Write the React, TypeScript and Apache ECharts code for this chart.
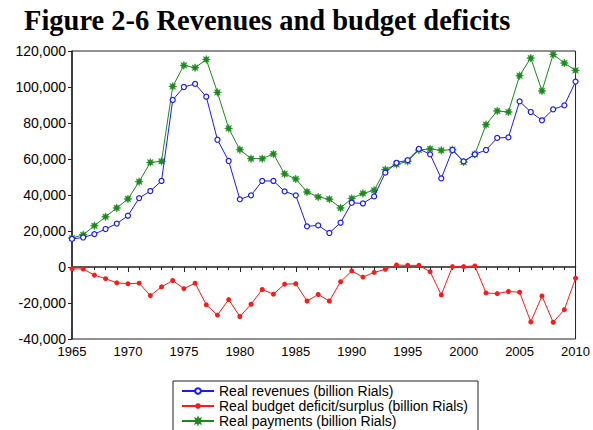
import React, { useEffect, useRef } from "react";
import * as echarts from "echarts";

const years: number[] = [];
for (let y = 1965; y <= 2010; y++) years.push(y);

const revenues = [
  15600, 16400, 18300, 21100, 24100, 28500, 38300, 42200, 47800, 92800,
  100000, 101700, 94600, 70700, 58900, 37600, 39800, 47800, 47800, 42000,
  39800, 22600, 23100, 18900, 24600, 35700, 35300, 39200, 52400, 57900,
  59400, 65600, 62600, 49200, 65000, 58700, 62600, 65000, 71700, 72000,
  92000, 86100, 81500, 87600, 89800, 103000,
];

const deficit = [
  -1000, -1100, -4500, -6500, -8800, -9300, -9000, -15900, -11000, -7500,
  -12000, -9000, -21000, -26700, -18100, -27500, -20700, -12500, -15100, -9500,
  -9300, -18900, -15300, -18900, -8200, -2200, -5600, -3000, -1300, 1100,
  900, 900, -2600, -15500, 200, 200, 600, -14400, -14800, -13600,
  -14000, -30500, -16100, -30700, -23700, -6200,
];

const payments = [
  16100, 17900, 22900, 27900, 32800, 37800, 47400, 58100, 58700, 100300,
  112000, 110700, 115300, 97000, 77000, 65200, 60200, 60200, 62800, 51700,
  48900, 41700, 38900, 37700, 32800, 38100, 40900, 42600, 54100, 57000,
  58700, 65000, 65600, 64800, 65200, 58300, 62600, 79100, 86700, 86100,
  106300, 116100, 97800, 118100, 113300, 109200,
];

const seriesNames = [
  "Real revenues (billion Rials)",
  "Real budget deficit/surplus (billion Rials)",
  "Real payments (billion Rials)",
];

const titleText = "Figure 2-6 Revenues and budget deficits";

const starPath =
  "path://M10,0 L11.9,5.4 L17.1,2.9 L14.6,8.1 L20,10 L14.6,11.9 L17.1,17.1 L11.9,14.6 L10,20 L8.1,14.6 L2.9,17.1 L5.4,11.9 L0,10 L5.4,8.1 L2.9,2.9 L8.1,5.4 Z";

const pair = (arr: number[]) => years.map((y, i) => [y, arr[i]]);

export default function App() {
  const ref = useRef<HTMLDivElement>(null);
  useEffect(() => {
    if (!ref.current) return;
    const chart = echarts.init(ref.current, undefined, { renderer: "svg" });
    const font = "Liberation Sans, Arial, sans-serif";
    chart.setOption({
      animation: false,
      backgroundColor: "#ffffff",
      title: {
        text: titleText,
        left: 24,
        top: 6,
        padding: 0,
        textStyle: {
          fontFamily: "Liberation Serif, Times New Roman, serif",
          fontWeight: "bold",
          fontSize: 28.5,
          color: "#000",
        },
      },
      grid: {
        left: 72,
        right: 16,
        top: 51,
        bottom: 91,
        show: true,
        borderColor: "#222",
        borderWidth: 1,
        backgroundColor: "transparent",
      },
      legend: {
        orient: "vertical",
        left: 173,
        top: 381,
        height: 120,
        padding: [3, 10, 20, 8],
        borderColor: "#222",
        borderWidth: 1,
        itemWidth: 32,
        itemHeight: 7,
        itemGap: 1,
        textStyle: { fontFamily: font, fontSize: 14, color: "#000" },
        data: seriesNames,
      },
      xAxis: {
        type: "value",
        min: 1965,
        max: 2010,
        interval: 5,
        axisLine: { show: true, lineStyle: { color: "#222", width: 1.5 } },
        axisTick: { show: true, inside: false, length: 5, lineStyle: { color: "#222" } },
        minorTick: { show: true, splitNumber: 5, length: 3, lineStyle: { color: "#222" } },
        splitLine: { show: false },
        axisLabel: {
          fontFamily: font,
          fontSize: 13,
          color: "#000",
          margin: 6,
          formatter: (v: number) => String(v),
        },
      },
      yAxis: {
        type: "value",
        min: -40000,
        max: 120000,
        interval: 20000,
        axisLine: { show: true, lineStyle: { color: "#222", width: 1.5 } },
        axisTick: { show: true, inside: false, length: 4, lineStyle: { color: "#222" } },
        splitLine: { show: false },
        axisLabel: {
          fontFamily: font,
          fontSize: 14,
          color: "#000",
          margin: 6,
          formatter: (v: number) => v.toLocaleString("en-US"),
        },
      },
      series: [
        {
          name: seriesNames[0],
          type: "line",
          data: pair(revenues),
          symbol: "circle",
          symbolSize: 5,
          showAllSymbol: true,
          lineStyle: { color: "#1a1aff", width: 1 },
          itemStyle: { color: "#ffffff", borderColor: "#1a1aff", borderWidth: 1.2 },
          z: 3,
        },
        {
          name: seriesNames[1],
          type: "line",
          data: pair(deficit),
          symbol: "circle",
          symbolSize: 5,
          showAllSymbol: true,
          lineStyle: { color: "#ff1a1a", width: 1 },
          itemStyle: { color: "#ff1a1a", borderColor: "#ff1a1a", borderWidth: 0 },
          z: 2,
        },
        {
          name: seriesNames[2],
          type: "line",
          data: pair(payments),
          symbol: starPath,
          symbolSize: 8,
          showAllSymbol: true,
          lineStyle: { color: "#1a8a1a", width: 1 },
          itemStyle: { color: "#1a8a1a", borderColor: "#1a8a1a", borderWidth: 0.5 },
          z: 2,
        },
      ],
    });
    return () => chart.dispose();
  }, []);
  return (
    <div
      ref={ref}
      style={{ position: "fixed", left: 0, top: 0, width: 593, height: 430, background: "#fff" }}
    />
  );
}
